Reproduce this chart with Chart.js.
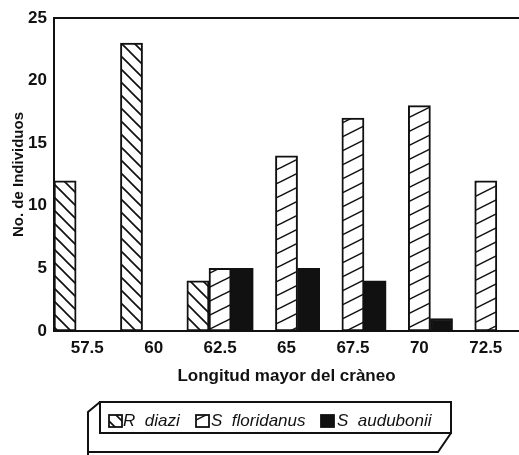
<!DOCTYPE html>
<html>
<head>
<meta charset="utf-8">
<script src="https://cdn.jsdelivr.net/npm/chart.js@4.4.1/dist/chart.umd.min.js"></script>
<style>
  body { margin: 0; background: #fff; }
  #wrap { width: 519px; height: 455px; }
</style>
</head>
<body>
<div id="wrap"><canvas id="chart1" width="519" height="455"></canvas></div>
<script>
// skull length classes (x axis)
var lengths = ["57.5", "60", "62.5", "65", "67.5", "70", "72.5"];
var species = ["R  diazi", "S  floridanus", "S  audubonii"];
var diazi = [12, 23, 4, 0, 0, 0, 0];
var floridanus = [0, 0, 5, 14, 17, 18, 12];
var audubonii = [0, 0, 5, 5, 4, 1, 0];
var yTicks = [0, 5, 10, 15, 20, 25];

const ink = "#111";

// hatch patterns
function backHatch() {
  const s = 13;
  const c = document.createElement("canvas");
  c.width = s; c.height = s;
  const x = c.getContext("2d");
  x.fillStyle = "#fff";
  x.fillRect(0, 0, s, s);
  x.strokeStyle = ink;
  x.lineWidth = 1.7;
  for (let k = -1; k <= 1; k++) {
    x.beginPath();
    x.moveTo(-1, -1 + k * s);
    x.lineTo(s + 1, s + 1 + k * s);
    x.stroke();
  }
  return x.createPattern(c, "repeat");
}

function fwdHatch() {
  const w = 28, h = 14;
  const c = document.createElement("canvas");
  c.width = w; c.height = h;
  const x = c.getContext("2d");
  x.fillStyle = "#fff";
  x.fillRect(0, 0, w, h);
  x.strokeStyle = ink;
  x.lineWidth = 1.5;
  for (let k = -1; k <= 1; k++) {
    x.beginPath();
    x.moveTo(-2, h + 1 + k * h);
    x.lineTo(w + 2, -1 + k * h);
    x.stroke();
  }
  return x.createPattern(c, "repeat");
}

const pDiazi = backHatch();
const pFlor = fwdHatch();
const fills = [pDiazi, pFlor, ink];

// top frame line + 3D legend box
const extras = {
  id: "extras",
  afterDraw(chart) {
    const ctx = chart.ctx;
    const a = chart.chartArea;
    ctx.save();
    ctx.strokeStyle = ink;
    ctx.lineWidth = 2;
    ctx.beginPath();
    ctx.moveTo(a.left, a.top);
    ctx.lineTo(a.right, a.top);
    ctx.stroke();

    // legend box
    ctx.lineWidth = 2;
    ctx.strokeRect(100, 402, 351, 31);
    ctx.beginPath();
    ctx.moveTo(100, 402);
    ctx.lineTo(88, 412);
    ctx.lineTo(88, 456);
    ctx.moveTo(88, 452);
    ctx.lineTo(438, 452);
    ctx.lineTo(451, 433);
    ctx.stroke();

    const items = [
      { box: 109, text: 123 },
      { box: 196, text: 211 },
      { box: 321, text: 337 }
    ];
    ctx.font = "italic 17px 'Liberation Sans', Arial, sans-serif";
    ctx.textBaseline = "middle";
    items.forEach((it, i) => {
      ctx.fillStyle = fills[i];
      ctx.fillRect(it.box, 415, 13, 12);
      ctx.lineWidth = 1.8;
      ctx.strokeRect(it.box, 415, 13, 12);
      ctx.fillStyle = ink;
      ctx.fillText(species[i], it.text, 421);
    });
    ctx.restore();
  }
};

const bg = {
  id: "bg",
  beforeDraw(chart) {
    const ctx = chart.ctx;
    ctx.save();
    ctx.fillStyle = "#fff";
    ctx.fillRect(0, 0, chart.width, chart.height);
    ctx.restore();
  }
};

const tickFont = { family: "'Liberation Sans', Arial, sans-serif", size: 17, weight: "bold" };

new Chart(document.getElementById("chart1"), {
  type: "bar",
  data: {
    labels: lengths,
    datasets: [diazi, floridanus, audubonii].map((d, i) => ({
      label: species[i],
      data: d,
      backgroundColor: fills[i],
      borderColor: ink,
      borderWidth: 2,
      borderSkipped: false,
      categoryPercentage: 1.0,
      barPercentage: 1.0
    }))
  },
  options: {
    responsive: false,
    animation: false,
    devicePixelRatio: 1,
    layout: { padding: { top: 18, right: 0, bottom: 65, left: 0 } },
    plugins: { legend: { display: false }, tooltip: { enabled: false } },
    scales: {
      x: {
        grid: { display: false, drawTicks: false },
        border: { display: true, color: ink, width: 2 },
        ticks: { color: ink, font: tickFont, padding: 7, maxRotation: 0 },
        title: {
          display: true,
          text: "Longitud mayor del cràneo",
          color: ink,
          font: { family: "'Liberation Sans', Arial, sans-serif", size: 17, weight: "bold" },
          padding: { top: 0, bottom: 3 }
        },
        afterFit(scale) { scale.height = 59; }
      },
      y: {
        min: 0,
        max: 25,
        grid: { display: false, drawTicks: false },
        border: { display: true, color: ink, width: 2 },
        afterBuildTicks(scale) { scale.ticks = yTicks.map(v => ({ value: v })); },
        ticks: { color: ink, font: tickFont, padding: 7 },
        title: {
          display: true,
          text: "No. de Individuos",
          color: ink,
          font: { family: "'Liberation Sans', Arial, sans-serif", size: 15, weight: "bold" },
          padding: { top: 10, bottom: 0 }
        },
        afterFit(scale) { scale.width = 54; }
      }
    }
  },
  plugins: [bg, extras]
});
</script>
</body>
</html>
